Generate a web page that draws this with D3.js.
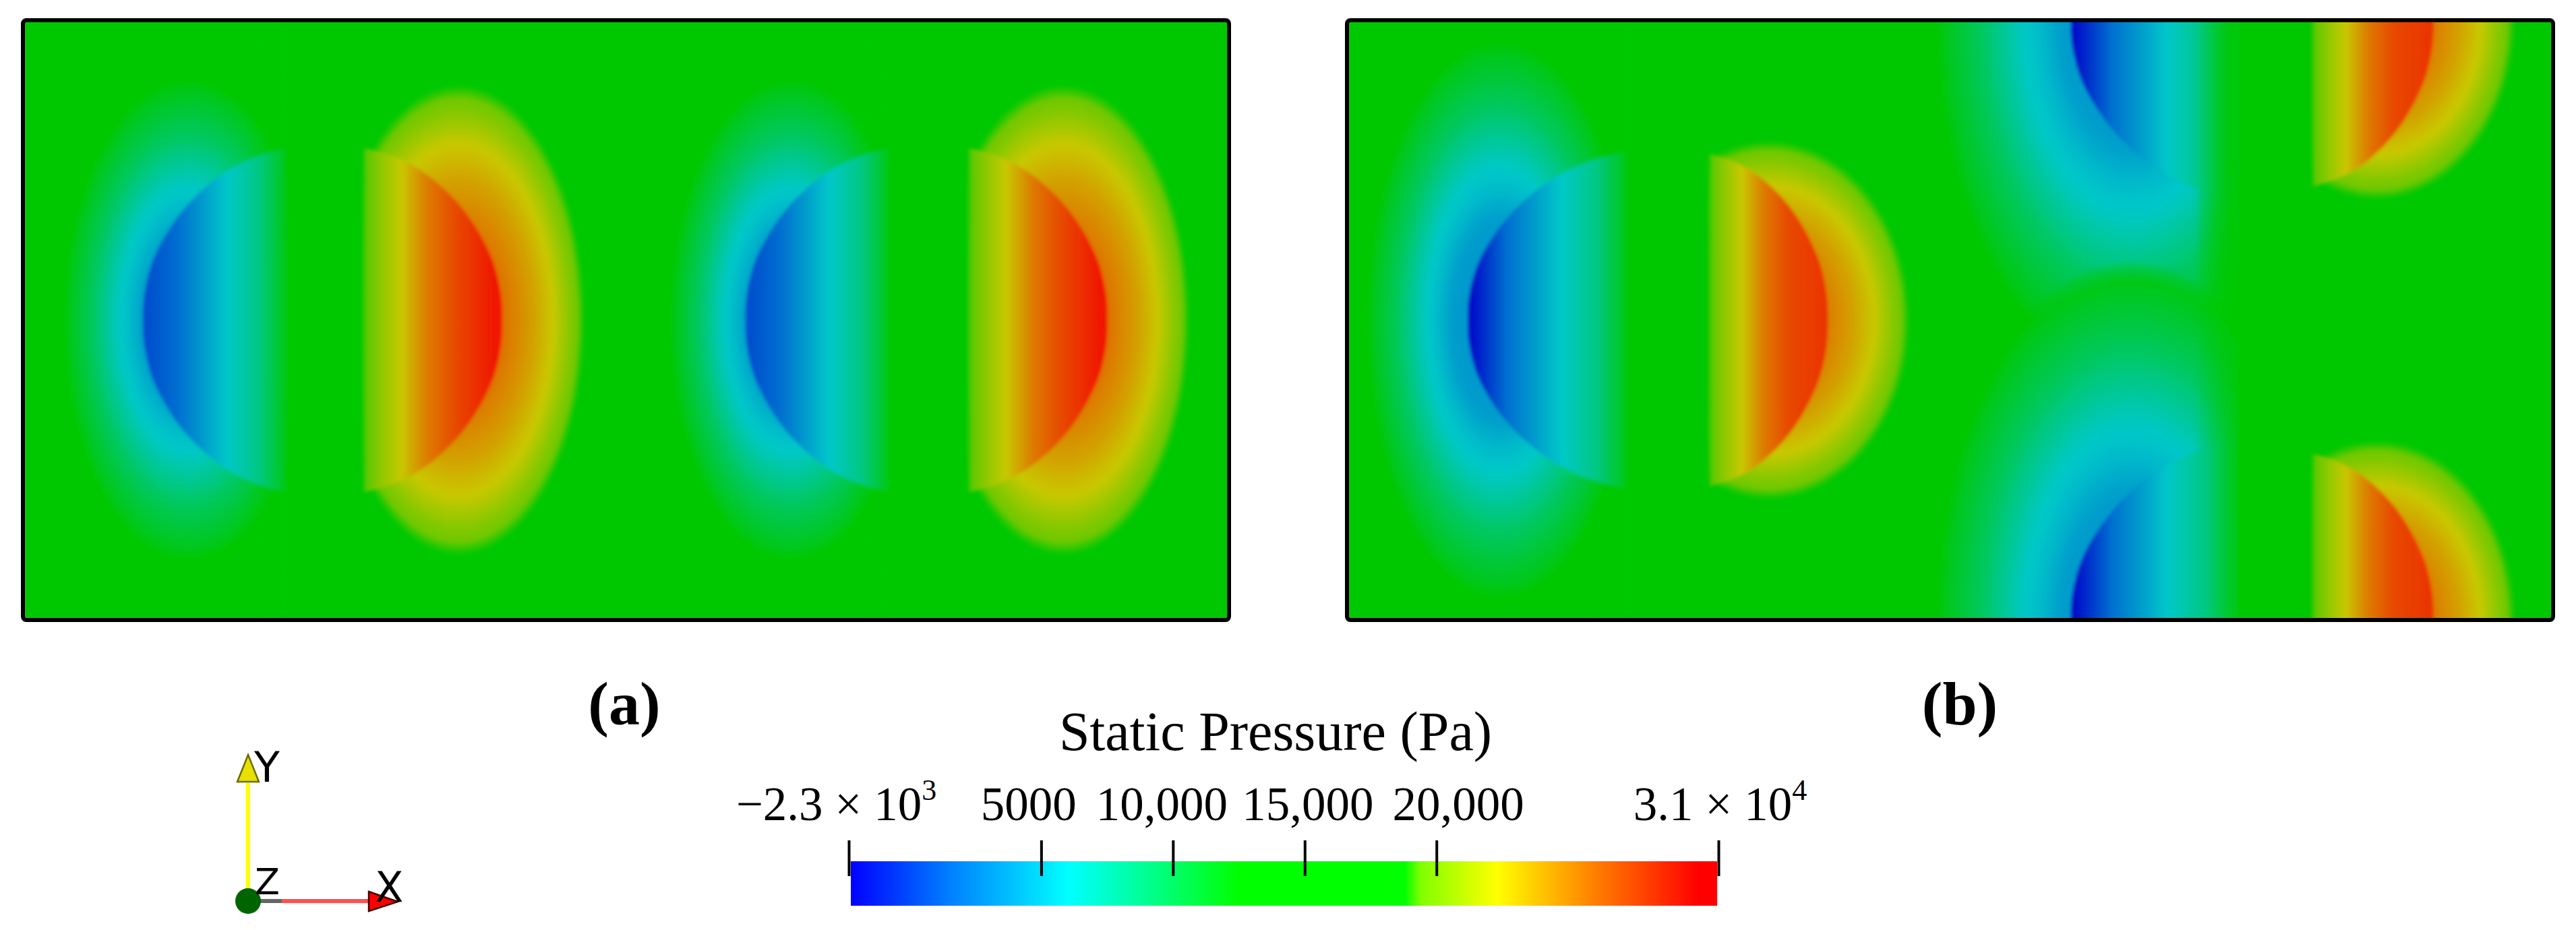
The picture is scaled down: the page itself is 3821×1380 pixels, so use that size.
<!DOCTYPE html>
<html>
<head>
<meta charset="utf-8">
<script src="https://d3js.org/d3.v7.min.js"></script>
<style>
  body { margin: 0; background: #fff; }
  svg { display: block; }
  .serif { font-family: "Liberation Serif", serif; fill: #000; }
  .triad { font-family: "DejaVu Sans", sans-serif; font-size: 62px; fill: #000; }
</style>
</head>
<body>
<div id="chart"></div>
<script>
/* global d3 */

const w = 3821
const h = 1380

const scaleValues = [-2300, 1500, 6000, 9000, 12500, 18800, 19400, 22300, 26000, 30000, 30700]
const barColors = ['#0000ff', '#0080ff', '#00ffff', '#00ff90', '#00ff00', '#00ff00', '#80ff00', '#ffff00', '#ff8000', '#ff0000', '#ff0000']
const fieldColors = ['#0000c8', '#0070d0', '#00c8c8', '#00c878', '#00c800', '#00c800', '#60c800', '#c8c800', '#e07000', '#f01800', '#f01800']

const barTicks = [-2300, 5000, 10000, 15000, 20000, 30700]
const barLabels = [['\u22122.3 \u00d7 10', '3'], ['5000'], ['10,000'], ['15,000'], ['20,000'], ['3.1 \u00d7 10', '4']]

const background = 15000

// one pressure lobe per entry, in mesh units (400 x 200)
const lobePanel = ['a', 'a', 'a', 'a', 'b', 'b', 'b', 'b', 'b', 'b']
const lobeKind = ['low', 'high', 'low', 'high', 'low', 'high', 'low', 'low', 'high', 'high']
const lobeCut = [87.5, 112.8, 287.3, 313.4, 93, 120, 295, 295, 320, 320]
const lobeApex = [39.8, 159, 239.6, 359.7, 40, 159.5, 240, 240, 360.4, 360.4]
const lobeMid = [100, 100, 100, 100, 100, 100, 200, 0, 200, 0]
const lobeHalf = [57.3, 57.5, 57.3, 57.5, 56.2, 55.5, 59.6, 59.6, 55.5, 55.5]
const lobeCx = [54.8, 144.5, 254.6, 345.1, 50.6, 140, 260, 260, 341.6, 341.6]
const lobeRx = [42.3, 42, 41, 42, 45, 46.8, 66, 66, 46, 46]
const lobeRy = [82, 78.6, 82, 78.6, 95, 60, 120, 120, 60, 60]
const lobePeak = [200, 30500, 200, 30500, -2300, 28800, -2300, -2300, 28800, 28800]

// shape of the lens edge: fraction of the half height -> fraction of the depth
const arcU = [0, 0.15, 0.353, 0.59, 0.757, 0.886, 0.96, 1]
const arcV = [1, 0.99, 0.927, 0.767, 0.587, 0.379, 0.18, 0]

// pressure across the lens, left to right
const lowInnerStops = [0, 0.25, 0.587, 0.8, 0.9, 1]
const lowInnerValues = [200, 1500, 6000, 8500, 10300, 12000]
const highInnerStops = [0, 0.14, 0.275, 0.46, 0.67, 1]
const highInnerValues = [19000, 20800, 22300, 25500, 27800, 30500]

// pressure from the ellipse centre to its rim
const lowOuterStops = [0, 0.35, 0.45, 0.55, 0.73, 0.88, 1]
const lowOuterValues = [3000, 3800, 5200, 6300, 9500, 11200, 12500]
const highOuterStops = [0, 0.35, 0.585, 0.745, 0.9, 1]
const highOuterValues = [27000, 26000, 24000, 22300, 20200, 19200]

const fieldColor = d3.scaleLinear().domain(scaleValues).range(fieldColors).clamp(true)
const barColor = d3.scaleLinear().domain(scaleValues).range(barColors).clamp(true)

const svg = d3.select('#chart').append('svg')
  .attr('width', w)
  .attr('height', h)
  .attr('viewBox', `0 0 ${w} ${h}`)

const defs = svg.append('defs')

defs.append('filter')
  .attr('id', 'soft')
  .attr('x', '-20%').attr('y', '-20%').attr('width', '140%').attr('height', '140%')
  .append('feGaussianBlur')
  .attr('stdDeviation', 2.5)

// the outer zone of a low lobe dies away towards its straight cut
const cutFade = defs.append('linearGradient').attr('id', 'cut-fade')
cutFade.append('stop').attr('offset', 0).attr('stop-color', fieldColor(background)).attr('stop-opacity', 0)
cutFade.append('stop').attr('offset', 1).attr('stop-color', fieldColor(background)).attr('stop-opacity', 0.8)

// fills a gradient by sampling the profile finely, so the colours follow the jet scale
function addStops (grad, stops, values, fade, color) {
  const v = d3.scaleLinear().domain(stops).range(values)
  d3.range(0, 1.0001, 1 / 50).forEach(o => {
    const alpha = fade ? Math.min(1, (1 - o) / 0.06) : 1
    grad.append('stop')
      .attr('offset', o)
      .attr('stop-color', color(v(o)))
      .attr('stop-opacity', alpha)
  })
}

function drawPanel (name, x0) {
  const x = d3.scaleLinear().domain([0, 400]).range([x0, x0 + 1789])
  const y = d3.scaleLinear().domain([0, 200]).range([920, 30])

  defs.append('clipPath').attr('id', `mesh-${name}`)
    .append('rect')
    .attr('x', x(0)).attr('y', y(200))
    .attr('width', x(400) - x(0)).attr('height', y(0) - y(200))

  svg.append('rect')
    .attr('x', x(0)).attr('y', y(200))
    .attr('width', x(400) - x(0)).attr('height', y(0) - y(200))
    .attr('fill', fieldColor(background))

  const g = svg.append('g').attr('clip-path', `url(#mesh-${name})`)

  lobePanel.forEach((p, i) => {
    if (p !== name) return
    const low = lobeKind[i] === 'low'
    const id = `${name}-${i}`

    const inner = defs.append('linearGradient').attr('id', `inner-${id}`)
    const innerValues = (low ? lowInnerValues : highInnerValues).slice()
    innerValues[low ? 0 : innerValues.length - 1] = lobePeak[i]
    addStops(inner, low ? lowInnerStops : highInnerStops, innerValues, false, fieldColor)

    const outer = defs.append('radialGradient').attr('id', `outer-${id}`)
    addStops(outer, low ? lowOuterStops : highOuterStops, low ? lowOuterValues : highOuterValues, true, fieldColor)

    const left = low ? 0 : lobeCut[i]
    const right = low ? lobeCut[i] : 400
    defs.append('clipPath').attr('id', `side-${id}`)
      .append('rect')
      .attr('x', x(left)).attr('y', 0)
      .attr('width', x(right) - x(left)).attr('height', h)

    const lobe = g.append('g').attr('filter', 'url(#soft)')
    const side = lobe.append('g').attr('clip-path', `url(#side-${id})`)

    side.append('ellipse')
      .attr('cx', x(lobeCx[i]))
      .attr('cy', y(lobeMid[i]))
      .attr('rx', x(lobeRx[i]) - x(0))
      .attr('ry', y(0) - y(lobeRy[i]))
      .attr('fill', `url(#outer-${id})`)

    if (low) {
      side.append('rect')
        .attr('x', x(lobeCut[i] - 14))
        .attr('y', 0)
        .attr('width', x(14) - x(0))
        .attr('height', h)
        .attr('fill', 'url(#cut-fade)')
    }

    const depth = lobeApex[i] - lobeCut[i]
    const upper = arcU.map((u, k) => [lobeCut[i] + depth * arcV[k], lobeMid[i] + lobeHalf[i] * u])
    const lower = arcU.slice(1).map((u, k) => [lobeCut[i] + depth * arcV[k + 1], lobeMid[i] - lobeHalf[i] * u])
    const arc = upper.slice().reverse().concat(lower)
    const lens = d3.line()
      .x(d => x(d[0]))
      .y(d => y(d[1]))
      .curve(d3.curveCatmullRom)

    side.append('path')
      .attr('d', lens(arc) + 'Z')
      .attr('fill', `url(#inner-${id})`)
  })

  svg.append('rect')
    .attr('x', x(0)).attr('y', y(200))
    .attr('width', x(400) - x(0)).attr('height', y(0) - y(200))
    .attr('rx', 5)
    .attr('fill', 'none')
    .attr('stroke', '#000')
    .attr('stroke-width', 6)
}

drawPanel('a', 34)
drawPanel('b', 1998)

// panel captions
svg.append('text').attr('class', 'serif')
  .attr('x', 926).attr('y', 1075)
  .attr('text-anchor', 'middle')
  .attr('font-size', 92).attr('font-weight', 'bold')
  .text('(a)')
svg.append('text').attr('class', 'serif')
  .attr('x', 2907).attr('y', 1075)
  .attr('text-anchor', 'middle')
  .attr('font-size', 92).attr('font-weight', 'bold')
  .text('(b)')

// colour bar
const barScale = d3.scaleLinear().domain([-2300, 30700]).range([1259, 2549])

const barGrad = defs.append('linearGradient').attr('id', 'bar-grad')
scaleValues.forEach(v => {
  barGrad.append('stop')
    .attr('offset', (v + 2300) / 33000)
    .attr('stop-color', barColor(v))
})

svg.append('rect')
  .attr('x', barScale(-2300) + 3)
  .attr('y', 1278)
  .attr('width', barScale(30700) - barScale(-2300) - 5)
  .attr('height', 66)
  .attr('fill', 'url(#bar-grad)')

svg.append('text').attr('class', 'serif')
  .attr('x', 1892).attr('y', 1113)
  .attr('text-anchor', 'middle')
  .attr('font-size', 82)
  .text('Static Pressure (Pa)')

const barAxis = d3.axisTop(barScale)
  .tickValues(barTicks)
  .tickSize(53)
  .tickPadding(30)
  .tickFormat('')

const $bar = svg.append('g')
  .attr('transform', 'translate(0, 1300)')
  .call(barAxis)

$bar.select('.domain').remove()
$bar.selectAll('.tick line').attr('stroke', '#000').attr('stroke-width', 4)

// the labels sit off their ticks in the source, so they get nudged by hand
const labelNudge = [-19, -19, -17, 4, 32, 2]

$bar.selectAll('.tick text')
  .attr('class', 'serif')
  .attr('font-size', 71)
  .attr('dx', (d, i) => labelNudge[i])
  .attr('fill', '#000')
  .each(function (d, i) {
    const t = d3.select(this)
    t.append('tspan').text(barLabels[i][0])
    if (barLabels[i][1]) {
      t.append('tspan')
        .attr('dy', -30)
        .attr('font-size', 44)
        .text(barLabels[i][1])
    }
  })

// axis triad
const triad = svg.append('g')

triad.append('line')
  .attr('x1', 368).attr('y1', 1162).attr('x2', 368).attr('y2', 1325)
  .attr('stroke', '#ffff00').attr('stroke-width', 6)
triad.append('path')
  .attr('d', 'M368,1120L384,1160L352,1160Z')
  .attr('fill', '#e8e000').attr('stroke', '#6b6b00').attr('stroke-width', 2.5)

triad.append('line')
  .attr('x1', 385).attr('y1', 1337).attr('x2', 418).attr('y2', 1337)
  .attr('stroke', '#666').attr('stroke-width', 6)
triad.append('line')
  .attr('x1', 418).attr('y1', 1337).attr('x2', 548).attr('y2', 1337)
  .attr('stroke', '#ff5050').attr('stroke-width', 6)
triad.append('path')
  .attr('d', 'M547,1323L590,1338L547,1352Z')
  .attr('fill', '#ff0000').attr('stroke', '#400').attr('stroke-width', 2.5)

triad.append('circle')
  .attr('cx', 368).attr('cy', 1337).attr('r', 19)
  .attr('fill', '#006400')

triad.append('text').attr('class', 'triad').attr('x', 377).attr('y', 1160).text('Y')
triad.append('text').attr('class', 'triad').attr('x', 378).attr('y', 1327).style('font-size', '54px').text('Z')
triad.append('text').attr('class', 'triad').attr('x', 556).attr('y', 1338).text('X')
</script>
</body>
</html>
